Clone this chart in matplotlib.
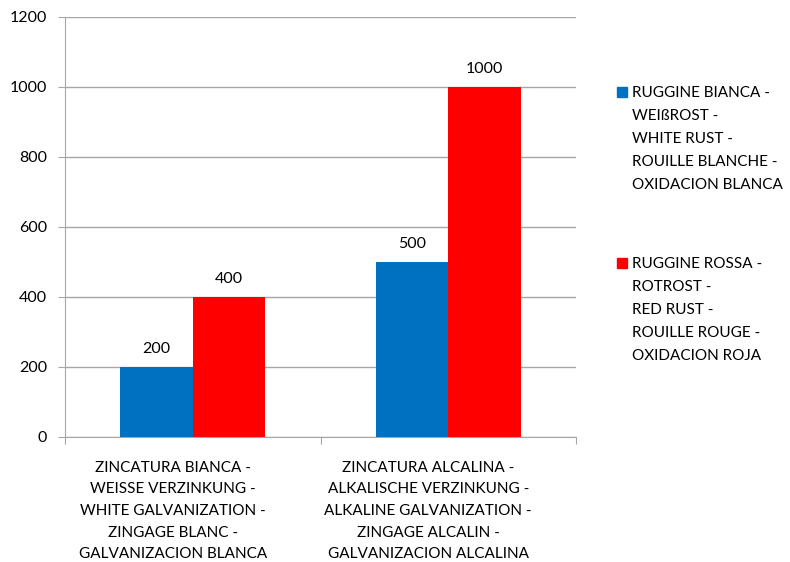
import numpy as np
import matplotlib.pyplot as plt
from matplotlib.patches import Rectangle
from matplotlib.transforms import ScaledTranslation

plt.rcParams['font.family'] = ['Lato', 'DejaVu Sans']

categories = ["ZINCATURA BIANCA -\nWEISSE VERZINKUNG -\nWHITE GALVANIZATION -\nZINGAGE BLANC -\nGALVANIZACION BLANCA",
              "ZINCATURA ALCALINA -\nALKALISCHE VERZINKUNG -\nALKALINE GALVANIZATION -\nZINGAGE ALCALIN -\nGALVANIZACION ALCALINA"]
series_names = ["RUGGINE BIANCA -\nWEIßROST -\nWHITE RUST -\nROUILLE BLANCHE -\nOXIDACION BLANCA",
                "RUGGINE ROSSA -\nROTROST -\nRED RUST -\nROUILLE ROUGE -\nOXIDACION ROJA"]
white_rust = [200, 500]
red_rust = [400, 1000]
colors = ['#0070C0', '#FF0000']
yticks = [0, 200, 400, 600, 800, 1000, 1200]

grid_col = '#A6A6A6'
fs = 11

fig = plt.figure(figsize=(7.9, 5.62), dpi=100)
ax = fig.add_axes([65/790, 1 - 437/562, (576-65)/790, (437-17)/562])

x = np.arange(len(categories))
w = 0.284
b1 = ax.bar(x - w/2, white_rust, w, color=colors[0], zorder=3)
b2 = ax.bar(x + w/2, red_rust, w, color=colors[1], zorder=3)
ax.bar_label(b1, padding=8, fontsize=fs + 0.5)
ax.bar_label(b2, padding=8, fontsize=fs + 0.5)

ax.set_xlim(-0.5, len(categories) - 0.5)
ax.set_ylim(0, 1200)
ax.set_yticks(yticks)
ax.set_yticklabels([str(v) for v in yticks], fontsize=fs + 0.5)
ax.yaxis.grid(True, color=grid_col, linewidth=1, zorder=0)

# category labels between boundary ticks
ax.set_xticks(np.arange(len(categories) + 1) - 0.5)
ax.set_xticklabels([])
ax.set_xticks(x, minor=True)
ax.set_xticklabels(categories, minor=True, fontsize=fs, linespacing=1.7)
ax.tick_params(axis='x', which='minor', length=0, pad=17)
ax.tick_params(axis='x', which='major', length=5, color=grid_col)
ax.tick_params(axis='y', length=5, color=grid_col, pad=8)
shift = ScaledTranslation(-20/100, 0, fig.dpi_scale_trans)
for lab in ax.get_xticklabels(minor=True):
    lab.set_transform(lab.get_transform() + shift)

for s in ['top', 'right']:
    ax.spines[s].set_visible(False)
for s in ['left', 'bottom']:
    ax.spines[s].set_color(grid_col)

# legend
legend_rows = [92, 263]
for name, col, yc in zip(series_names, colors, legend_rows):
    fig.patches.append(Rectangle((617/790, 1 - (yc + 5)/562), 10/790, 10/562,
                                 transform=fig.transFigure, color=col))
    fig.text(632/790, 1 - (yc - 6)/562, name, fontsize=fs, va='top', ha='left',
             linespacing=1.82)

fig.savefig('out.png', dpi=100)
